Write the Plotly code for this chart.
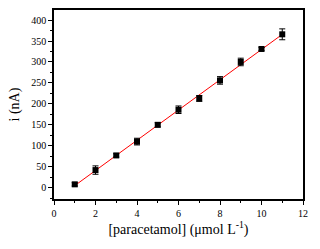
import numpy as np
import plotly.graph_objects as go

conc = [1, 2, 3, 4, 5, 6, 7, 8, 9, 10, 11]
current = [8, 42, 77, 110, 150, 186, 213, 256, 300, 331, 366]
err = [4, 10, 4, 8, 5, 9, 7, 9, 9, 4, 13]

slope, intercept = np.polyfit(conc, current, 1)
fit_x = [conc[0], conc[-1]]
fit_y = [slope * v + intercept for v in fit_x]

fig = go.Figure()
fig.add_trace(go.Scatter(x=fit_x, y=fit_y, mode="lines",
                         line=dict(color="red", width=1), showlegend=False))
fig.add_trace(go.Scatter(x=conc, y=current, mode="markers",
                         marker=dict(symbol="square", size=6, color="black"),
                         error_y=dict(type="data", array=err, color="black",
                                      thickness=1, width=3),
                         showlegend=False))

font = "Liberation Serif"
fig.update_layout(
    width=320, height=249,
    margin=dict(l=54, r=17, t=8, b=50),
    paper_bgcolor="white", plot_bgcolor="white",
    font=dict(family=font, color="black", size=10),
    xaxis=dict(range=[0, 12], tickvals=[0, 2, 4, 6, 8, 10, 12],
               ticks="outside", ticklen=4, tickwidth=1, tickcolor="black",
               minor=dict(dtick=1, ticks="outside", ticklen=2, tickcolor="black"),
               showline=True, linecolor="black", linewidth=1.5, mirror=True,
               showgrid=False, zeroline=False,
               title=dict(text="[paracetamol] (μmol L<sup>-1</sup>)",
                          font=dict(family=font, size=14), standoff=6)),
    yaxis=dict(range=[-27, 424], tickvals=[0, 50, 100, 150, 200, 250, 300, 350, 400],
               ticks="outside", ticklen=4, tickwidth=1, tickcolor="black",
               minor=dict(dtick=25, tick0=0, ticks="outside", ticklen=2, tickcolor="black"),
               showline=True, linecolor="black", linewidth=1.5, mirror=True,
               showgrid=False, zeroline=False,
               title=dict(text="i (nA)", font=dict(family=font, size=14), standoff=8)),
)
fig.write_html("out.html")
